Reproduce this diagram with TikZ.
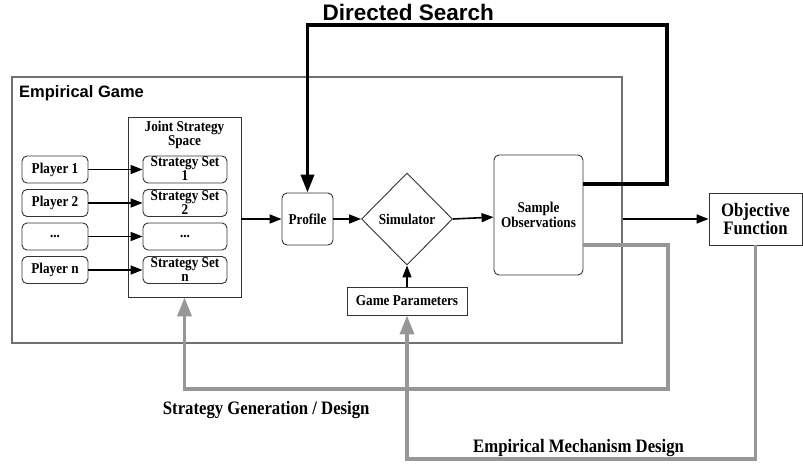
\documentclass[tikz,border=0pt]{standalone}
\usepackage{fontspec}
\newfontfamily\tnr[FakeStretch=0.88]{Liberation Serif}
\newfontfamily\arl{Liberation Sans}
\usetikzlibrary{arrows.meta,shapes.geometric}
\definecolor{thickgray}{HTML}{979797}
\definecolor{framegray}{HTML}{707070}
\definecolor{boxline}{HTML}{333333}
\begin{document}
\begin{tikzpicture}[x=1pt,y=-1pt,
  sf/.style={font=\tnr\bfseries\fontsize{15}{14.3}\selectfont},
  rbox/.style={sf, draw=boxline, line width=0.9pt, rounded corners=5pt, inner sep=0pt, align=center},
  sqbox/.style={sf, draw=boxline, line width=0.9pt, inner sep=0pt, align=center},
  txtnode/.style={sf, inner sep=0pt, align=center, anchor=north},
  conn/.style={draw=black, line width=1.6pt, -{Triangle[length=12pt,width=9pt]}},
  bigconn/.style={draw=black, line width=3.6pt, -{Triangle[length=18pt,width=13pt]}},
  grayconn/.style={draw=thickgray, line width=3.6pt, -{Triangle[length=19pt,width=14pt]}},
  lbl/.style={font=\tnr\bfseries\fontsize{19}{18.3}\selectfont, inner sep=0pt, anchor=base west},
]
\useasboundingbox (0,0) rectangle (803,464);

% frame
\node[draw=framegray, line width=1.2pt, minimum width=610pt, minimum height=266pt, inner sep=0pt] (eg) at (317,210) {};
\node[font=\arl\bfseries\fontsize{16.5}{18}\selectfont, inner sep=0pt, anchor=base west] (egl) at (19,97.7) {Empirical Game};
\node[font=\arl\bfseries\fontsize{22.5}{24}\selectfont, inner sep=0pt, anchor=base west] (dsl) at (322.5,20.7) {Directed Search};

% players
\node[rbox, minimum width=66pt, minimum height=27pt] (p1) at (55,169.5) {Player 1};
\node[rbox, minimum width=66pt, minimum height=27pt] (p2) at (55,203) {Player 2};
\node[rbox, minimum width=66pt, minimum height=27pt] (p3) at (55,236.5) {...};
\node[rbox, minimum width=66pt, minimum height=27pt] (pn) at (55,270) {Player n};

% joint strategy space
\node[sqbox, minimum width=113pt, minimum height=180pt] (jss) at (184.5,207) {};
\node[txtnode] (jsst) at (184.5,120.5) {Joint Strategy\\Space};

\node[rbox, minimum width=84pt, minimum height=27pt] (s1) at (185,169.5) {};
\node[txtnode] (s1t) at (185,156.5) {Strategy Set\\1};
\node[rbox, minimum width=84pt, minimum height=27pt] (s2) at (185,203) {};
\node[txtnode] (s2t) at (185,190) {Strategy Set\\2};
\node[rbox, minimum width=84pt, minimum height=27pt] (s3) at (185,236.5) {...};
\node[rbox, minimum width=84pt, minimum height=27pt] (sn) at (185,270) {};
\node[txtnode] (snt) at (185,257) {Strategy Set\\n};

\draw[conn] (p1) -- (s1);
\draw[conn] (p2) -- (s2);
\draw[conn] (p3) -- (s3);
\draw[conn] (pn) -- (sn);

% main chain
\node[rbox, minimum width=51pt, minimum height=52pt] (prof) at (307.5,219) {Profile};
\node[sf, draw=boxline, line width=0.9pt, diamond, minimum width=91pt, minimum height=92pt, inner sep=0pt] (sim) at (407,219) {Simulator};
\node[rbox, minimum width=89pt, minimum height=120pt] (obs) at (538.5,215) {Sample\\Observations};
\node[sqbox, minimum width=120pt, minimum height=28pt] (gp) at (407,301) {Game Parameters};
\node[sqbox, font=\tnr\bfseries\fontsize{19}{18.3}\selectfont, minimum width=93pt, minimum height=52pt] (obj) at (755.5,219) {Objective\\Function};

\draw[conn] (jss.east |- prof.west) -- (prof.west);
\draw[conn] (prof) -- (sim);
\draw[conn] (sim.east) -- (obs);
\draw[conn] (gp) -- (sim);
\draw[conn] (eg.east |- obj.west) -- (obj.west);

% gray feedback loops
\coordinate (sg1) at (668,245);
\coordinate (sg2) at (668,389);
\draw[grayconn] (obs.east |- sg1) -- (sg1) -- (sg2) -- (jss.south |- sg2) -- (jss.south);
\coordinate (em1) at (755.5,459);
\draw[grayconn] (obj.south) -- (em1) -- (gp.south |- em1) -- (gp.south);

% directed search
\coordinate (ds1) at (667,184);
\coordinate (ds2) at (667,25);
\coordinate (ds3) at (307.5,25);
\draw[bigconn] (obs.east |- ds1) -- (ds1) -- (ds2) -- (ds3) -- (prof.north);

\node[lbl] (sgl) at (162.7,414) {Strategy Generation / Design};
\node[lbl] (eml) at (473,452) {Empirical Mechanism Design};
\end{tikzpicture}
\end{document}
